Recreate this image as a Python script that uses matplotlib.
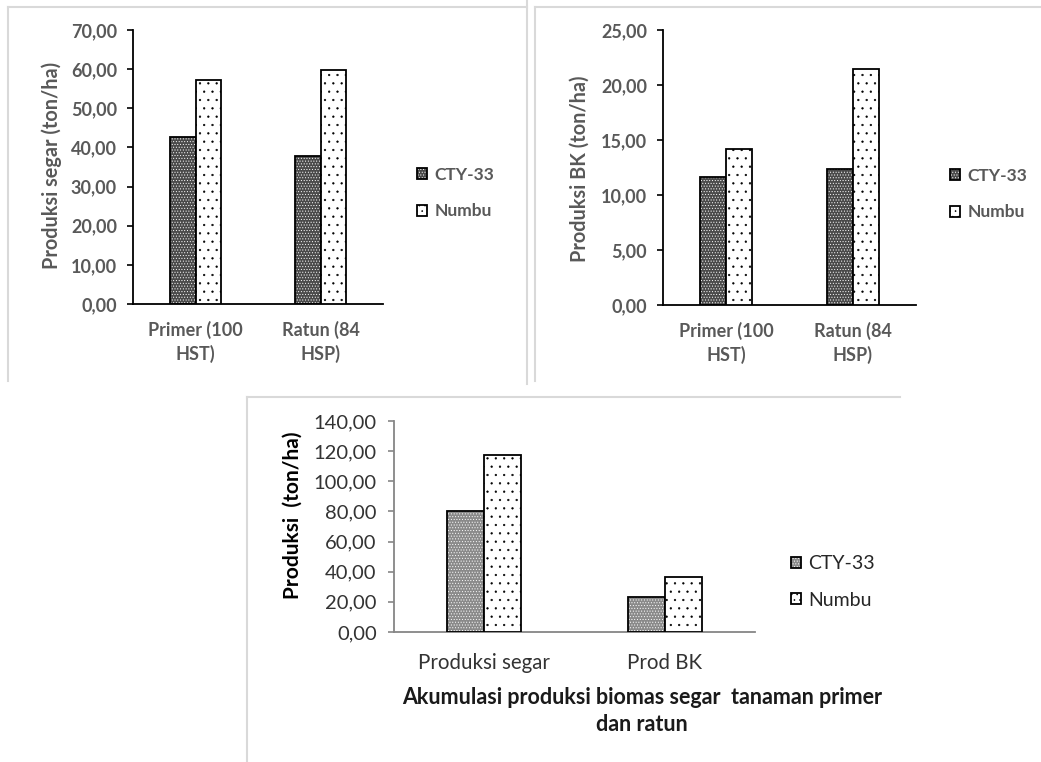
import matplotlib
matplotlib.use("Agg")
import matplotlib.pyplot as plt
from matplotlib.ticker import FuncFormatter, MultipleLocator
from matplotlib.patches import Patch
from matplotlib.legend_handler import HandlerTuple
from matplotlib.lines import Line2D
import numpy as np

# ---------------- data ----------------
series_names = ["CTY-33", "Numbu"]

cat_segar = ["Primer (100\nHST)", "Ratun (84\nHSP)"]
segar_cty = [42.7, 37.8]
segar_numbu = [57.2, 59.8]

cat_bk = ["Primer (100\nHST)", "Ratun (84\nHSP)"]
bk_cty = [11.6, 12.4]
bk_numbu = [14.2, 21.5]

cat_total = ["Produksi segar", "Prod BK"]
total_cty = [80.5, 23.2]
total_numbu = [117.4, 36.5]

ylabel_1 = "Produksi segar (ton/ha)"
ylabel_2 = "Produksi BK (ton/ha)"
ylabel_3 = "Produksi  (ton/ha)"
xtitle_3 = "Akumulasi produksi biomas segar  tanaman primer\ndan ratun"

# ---------------- setup ----------------
W, H = 1041, 762
fig = plt.figure(figsize=(W / 100, H / 100), dpi=100)
fig.patch.set_facecolor("white")
plt.rcParams["hatch.linewidth"] = 0.4

FONT = "Lato"
GRAY = "#595959"


def px_axes(left, top, right, bottom):
    return fig.add_axes([left / W, 1 - bottom / H, (right - left) / W, (bottom - top) / H])


def fmt(v, pos):
    return f"{v:.2f}".replace(".", ",")


def draw_bars(ax, cty, numbu, cty_face, cty_hatch, num_hatch, bw=0.205):
    x = np.arange(len(cty))
    # CTY-33 : gray fill with white dot texture, black outline
    ax.bar(x - bw / 2, cty, bw, facecolor=cty_face, edgecolor="white",
           hatch=cty_hatch, linewidth=0, zorder=2)
    ax.bar(x - bw / 2, cty, bw, fill=False, edgecolor="black", linewidth=1.3, zorder=3)
    # Numbu : white with black dots
    ax.bar(x + bw / 2, numbu, bw, facecolor="white", edgecolor="black",
           hatch=num_hatch, linewidth=1.3, zorder=3)
    return x


def style_axes(ax, ymax, step, cats, x, tcolor, tweight, tsize, csize, spine_color,
               ypad, xpad, lsp):
    ax.set_xlim(-0.5, len(cats) - 0.5)
    ax.set_ylim(0, ymax)
    ax.yaxis.set_major_locator(MultipleLocator(step))
    ax.yaxis.set_major_formatter(FuncFormatter(fmt))
    for s in ["top", "right"]:
        ax.spines[s].set_visible(False)
    for s in ["left", "bottom"]:
        ax.spines[s].set_color(spine_color)
        ax.spines[s].set_linewidth(1.3)
    ax.tick_params(axis="y", direction="out", length=4.5, width=1.2, color=spine_color,
                   labelsize=tsize, labelcolor=tcolor, pad=ypad)
    ax.tick_params(axis="x", length=0, pad=xpad, labelsize=csize, labelcolor=tcolor)
    ax.set_xticks(x)
    ax.set_xticklabels(cats, linespacing=lsp)
    for lab in ax.get_yticklabels() + ax.get_xticklabels():
        lab.set_fontfamily(FONT)
        lab.set_fontweight(tweight)
    ax.set_facecolor("none")


def add_legend(ax, cty_face, cty_hatch, num_hatch, anchor_px, size, weight, color, lsp, hl):
    h_cty = (Patch(facecolor=cty_face, edgecolor="white", hatch=cty_hatch, linewidth=0),
             Patch(fill=False, edgecolor="black", linewidth=1.3))
    h_num = Patch(facecolor="white", edgecolor="black", hatch=num_hatch, linewidth=1.3)
    leg = ax.legend([h_cty, h_num], series_names, handler_map={tuple: HandlerTuple(ndivide=1)},
                    loc="center left",
                    bbox_to_anchor=(anchor_px[0] / W, 1 - anchor_px[1] / H),
                    bbox_transform=fig.transFigure, frameon=False,
                    handlelength=hl, handleheight=hl, handletextpad=0.4,
                    labelspacing=lsp, borderpad=0, borderaxespad=0,
                    prop={"family": FONT, "size": size, "weight": weight})
    for t in leg.get_texts():
        t.set_color(color)
    return leg


# ---------------- panel frames ----------------
FRAME = "#d9d9d9"
def fline(xs, ys):
    fig.add_artist(Line2D([v / W for v in xs], [1 - v / H for v in ys],
                          color=FRAME, linewidth=1.5, transform=fig.transFigure))

fline([8, 527], [7, 7]); fline([8, 8], [7, 381]); fline([527, 527], [0, 384])
fline([535, 1041], [7, 7]); fline([535, 535], [7, 381])
fline([247, 900], [397, 397]); fline([247, 247], [397, 762])

# ---------------- chart 1 ----------------
CF1, CH1, NH1 = "#4a4a4a", "......", ".."
ax1 = px_axes(133, 30, 383, 304)
x1 = draw_bars(ax1, segar_cty, segar_numbu, CF1, CH1, NH1)
style_axes(ax1, 70, 10, cat_segar, x1, GRAY, "bold", 13, 13, "#000000", 7, 12, 1.4)
fig.text(52 / W, 1 - 165 / H, ylabel_1, rotation=90, ha="center", va="center",
         family=FONT, weight="bold", size=14.3, color=GRAY)
add_legend(ax1, CF1, CH1, "...", (417, 193), 12.5, "bold", GRAY, 1.2, 0.6)

# ---------------- chart 2 ----------------
ax2 = px_axes(663, 30, 916, 305)
x2 = draw_bars(ax2, bk_cty, bk_numbu, CF1, CH1, NH1)
style_axes(ax2, 25, 5, cat_bk, x2, GRAY, "bold", 13, 13, "#000000", 7, 12, 1.4)
fig.text(580 / W, 1 - 169 / H, ylabel_2, rotation=90, ha="center", va="center",
         family=FONT, weight="bold", size=14.3, color=GRAY)
add_legend(ax2, CF1, CH1, "...", (950, 194), 12.5, "bold", GRAY, 1.2, 0.6)

# ---------------- chart 3 ----------------
CF3 = "#8a8a8a"
ax3 = px_axes(394, 421, 755, 632)
x3 = draw_bars(ax3, total_cty, total_numbu, CF3, CH1, NH1)
style_axes(ax3, 140, 20, cat_total, x3, "#333333", "normal", 14.5, 14.8, "#868686", 8, 15, 1.2)
fig.text(293 / W, 1 - 515 / H, ylabel_3, rotation=90, ha="center", va="center",
         family=FONT, weight="bold", size=15, color="black")
fig.text(642 / W, 1 - 711 / H, xtitle_3, ha="center", va="center", linespacing=1.3,
         family=FONT, weight="bold", size=15.5, color="#1a1a1a")
add_legend(ax3, CF3, CH1, "...", (791, 582), 14, "normal", "#262626", 1.0, 0.5)

fig.savefig("out.png", dpi=100, facecolor="white")
